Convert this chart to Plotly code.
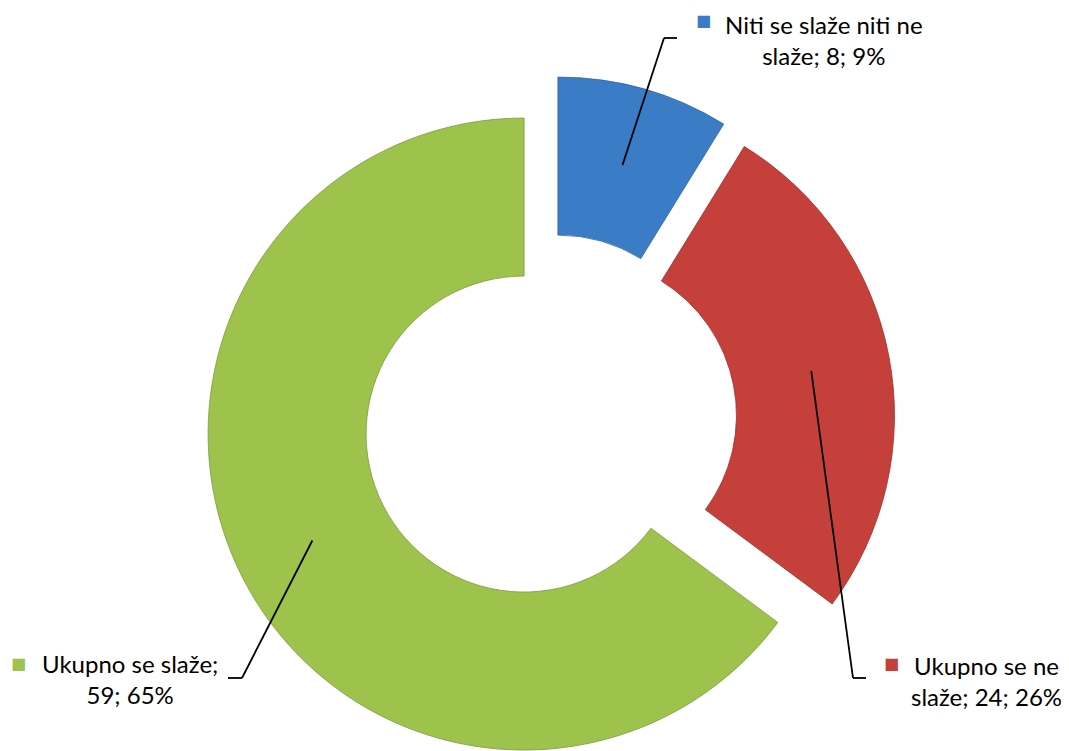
import math
import plotly.graph_objects as go

# data
labels = ["Niti se slaže niti ne slaže", "Ukupno se ne slaže", "Ukupno se slaže"]
values = [8, 24, 59]
colors = ["#3B7CC7", "#C6403B", "#9DC34D"]
edge_colors = ["#2E62A0", "#9A302D", "#7B9A3A"]
label_texts = [
    "Niti se slaže niti ne<br>slaže; 8; 9%",
    "Ukupno se ne<br>slaže; 24; 26%",
    "Ukupno se slaže;<br>59; 65%",
]

W, H = 1069, 751
OFF = 8               # page body margin shifts everything by 8px
cx0, cy0 = 550, 421   # unexploded centre (px from top-left of window)
R = 316               # outer radius px
HOLE = 0.5
PULL = 29             # explode distance px


def fx(px):
    return (px - OFF) / W


def fy(py):
    return 1 - (py - OFF) / H


total = sum(values)
fig = go.Figure()

# one trace per slice so each can be shifted outward on its own
mid_angles = []
start = 0.0
for i, v in enumerate(values):
    frac = v / total
    mid = (start + frac / 2) * 2 * math.pi
    mid_angles.append(mid)
    start += frac
    cx = cx0 + math.sin(mid) * PULL
    cy = cy0 - math.cos(mid) * PULL
    cols = ["rgba(0,0,0,0)"] * len(values)
    cols[i] = colors[i]
    widths = [0] * len(values)
    widths[i] = 0.8
    lcols = ["rgba(0,0,0,0)"] * len(values)
    lcols[i] = edge_colors[i]
    fig.add_trace(go.Pie(
        labels=labels, values=values, sort=False, direction="clockwise",
        rotation=0, hole=HOLE, textinfo="none", hoverinfo="skip",
        showlegend=False,
        marker=dict(colors=cols, line=dict(color=lcols, width=widths)),
        domain=dict(x=[fx(cx - R), fx(cx + R)],
                    y=[max(0, fy(cy + R)), min(1, fy(cy - R))]),
    ))

# leader lines: start at ring middle of each slice, elbow, short horizontal
elbows = [((664, 38), (677, 38)), ((853, 678), (866, 678)), ((242, 678), (228, 678))]
r_mid = (R + R * HOLE) / 2
shapes = []
for i, mid in enumerate(mid_angles):
    cx = cx0 + math.sin(mid) * PULL
    cy = cy0 - math.cos(mid) * PULL
    px = cx + math.sin(mid) * r_mid
    py = cy - math.cos(mid) * r_mid
    pts = [(px, py), elbows[i][0], elbows[i][1]]
    for (x1, y1), (x2, y2) in zip(pts[:-1], pts[1:]):
        shapes.append(dict(type="line", xref="paper", yref="paper",
                           x0=fx(x1), y0=fy(y1), x1=fx(x2), y1=fy(y2),
                           line=dict(color="black", width=1.8)))

# label text blocks and legend-key squares
text_pos = [(824, 40), (986, 681), (130, 679)]
key_pos = [(703, 21), (891, 663), (18, 663)]
annotations = []
for i in range(len(values)):
    tx, ty = text_pos[i]
    annotations.append(dict(
        x=fx(tx), y=fy(ty), xref="paper", yref="paper",
        text=label_texts[i], showarrow=False, align="center",
        xanchor="center", yanchor="middle",
        font=dict(family="Lato", size=24, color="black")))
    kx, ky = key_pos[i]
    annotations.append(dict(
        x=fx(kx), y=fy(ky), xref="paper", yref="paper",
        text="■", showarrow=False, xanchor="center", yanchor="middle",
        font=dict(family="DejaVu Sans", size=16, color=colors[i])))

fig.update_layout(
    width=W, height=H,
    margin=dict(l=0, r=0, t=0, b=0),
    paper_bgcolor="white",
    plot_bgcolor="white",
    shapes=shapes,
    annotations=annotations,
)

fig.write_html("out.html")
